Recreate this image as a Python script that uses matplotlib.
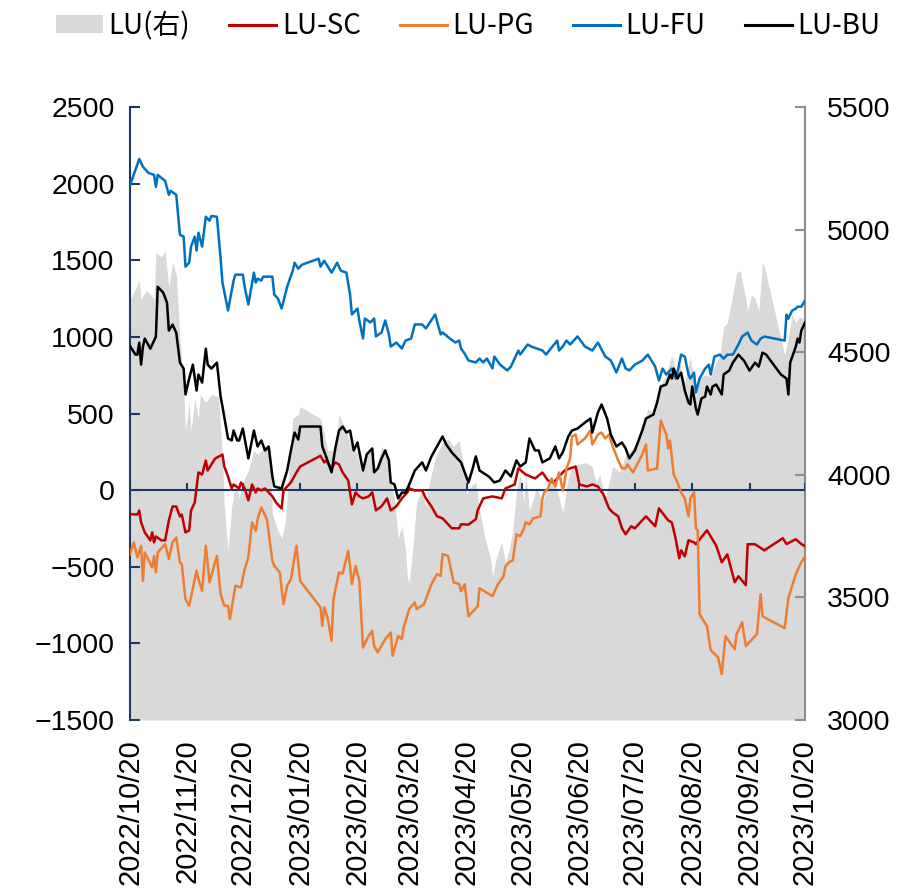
import matplotlib
matplotlib.use("Agg")
import matplotlib.pyplot as plt
from matplotlib.patches import Patch
from matplotlib.lines import Line2D
import pandas as pd

# ---- data ----
fu_dates = [
    "2022-10-20", "2022-10-22", "2022-10-25", "2022-10-27", "2022-10-30", "2022-11-02", "2022-11-03",
    "2022-11-04", "2022-11-08", "2022-11-10", "2022-11-11", "2022-11-14", "2022-11-16", "2022-11-18",
    "2022-11-19", "2022-11-21", "2022-11-22", "2022-11-24", "2022-11-25", "2022-11-26", "2022-11-28",
    "2022-11-30", "2022-12-02", "2022-12-03", "2022-12-06", "2022-12-08", "2022-12-09", "2022-12-12",
    "2022-12-14", "2022-12-15", "2022-12-16", "2022-12-20", "2022-12-21", "2022-12-23", "2022-12-26",
    "2022-12-27", "2022-12-28", "2022-12-30", "2022-12-31", "2023-01-05", "2023-01-06", "2023-01-08",
    "2023-01-10", "2023-01-13", "2023-01-16", "2023-01-17", "2023-01-19", "2023-01-21", "2023-01-30",
    "2023-01-31", "2023-02-02", "2023-02-06", "2023-02-09", "2023-02-11", "2023-02-14", "2023-02-16",
    "2023-02-17", "2023-02-20", "2023-02-21", "2023-02-23", "2023-02-24", "2023-02-27", "2023-03-01",
    "2023-03-02", "2023-03-05", "2023-03-07", "2023-03-09", "2023-03-10", "2023-03-13", "2023-03-16",
    "2023-03-18", "2023-03-21", "2023-03-23", "2023-03-27", "2023-03-29", "2023-04-03", "2023-04-06",
    "2023-04-07", "2023-04-11", "2023-04-14", "2023-04-16", "2023-04-17", "2023-04-19", "2023-04-21",
    "2023-04-25", "2023-04-27", "2023-04-29", "2023-05-01", "2023-05-04", "2023-05-05", "2023-05-08",
    "2023-05-12", "2023-05-14", "2023-05-18", "2023-05-19", "2023-05-23", "2023-05-25", "2023-05-31",
    "2023-06-02", "2023-06-08", "2023-06-09", "2023-06-11", "2023-06-13", "2023-06-15", "2023-06-19",
    "2023-06-23", "2023-06-27", "2023-06-30", "2023-07-04", "2023-07-07", "2023-07-10", "2023-07-13",
    "2023-07-15", "2023-07-17", "2023-07-20", "2023-07-24", "2023-07-27", "2023-07-29", "2023-07-31",
    "2023-08-02", "2023-08-04", "2023-08-06", "2023-08-09", "2023-08-11", "2023-08-12", "2023-08-14",
    "2023-08-16", "2023-08-18", "2023-08-19", "2023-08-21", "2023-08-22", "2023-08-24", "2023-08-27",
    "2023-08-29", "2023-08-30", "2023-09-01", "2023-09-04", "2023-09-06", "2023-09-08", "2023-09-11",
    "2023-09-14", "2023-09-16", "2023-09-19", "2023-09-21", "2023-09-24", "2023-09-26", "2023-09-28",
    "2023-10-09", "2023-10-10", "2023-10-11", "2023-10-13", "2023-10-15", "2023-10-16", "2023-10-18",
    "2023-10-20",
]
fu_vals = [
    1990, 2057, 2161, 2110, 2070, 2057, 1979, 2057, 2018, 1927, 1953, 1927, 1667, 1654, 1458, 1484,
    1589, 1654, 1563, 1680, 1589, 1784, 1758, 1789, 1784, 1510, 1354, 1172, 1302, 1367, 1406, 1406,
    1328, 1211, 1419, 1354, 1380, 1367, 1393, 1393, 1276, 1250, 1185, 1328, 1432, 1484, 1445, 1471,
    1510, 1458, 1497, 1419, 1484, 1432, 1419, 1276, 1146, 1185, 1107, 989, 1120, 1094, 1120, 1003,
    1029, 1107, 1016, 937, 963, 924, 976, 989, 1081, 1081, 1055, 1146, 1016, 1029, 989, 963, 976,
    924, 890, 846, 833, 859, 833, 859, 794, 872, 820, 781, 807, 911, 885, 950, 937, 911, 885, 976,
    911, 937, 976, 950, 1003, 937, 911, 963, 872, 846, 768, 859, 794, 781, 819, 845, 884, 845, 806,
    715, 793, 754, 793, 728, 767, 884, 871, 754, 728, 767, 637, 728, 793, 819, 754, 871, 884, 858,
    884, 884, 950, 1002, 1028, 976, 950, 989, 1002, 976, 1145, 1119, 1171, 1184, 1197, 1197, 1236,
]

sc_dates = [
    "2022-10-20", "2022-10-24", "2022-10-25", "2022-10-26", "2022-10-28", "2022-10-31", "2022-11-01",
    "2022-11-02", "2022-11-03", "2022-11-06", "2022-11-08", "2022-11-10", "2022-11-12", "2022-11-14",
    "2022-11-16", "2022-11-17", "2022-11-19", "2022-11-21", "2022-11-22", "2022-11-24", "2022-11-26",
    "2022-11-28", "2022-11-30", "2022-12-01", "2022-12-05", "2022-12-07", "2022-12-09", "2022-12-10",
    "2022-12-12", "2022-12-14", "2022-12-15", "2022-12-18", "2022-12-19", "2022-12-21", "2022-12-23",
    "2022-12-25", "2022-12-27", "2022-12-28", "2022-12-30", "2023-01-01", "2023-01-05", "2023-01-07",
    "2023-01-10", "2023-01-11", "2023-01-15", "2023-01-18", "2023-01-20", "2023-01-31", "2023-02-02",
    "2023-02-03", "2023-02-06", "2023-02-08", "2023-02-10", "2023-02-12", "2023-02-15", "2023-02-17",
    "2023-02-19", "2023-02-21", "2023-02-23", "2023-02-26", "2023-02-28", "2023-03-02", "2023-03-05",
    "2023-03-08", "2023-03-10", "2023-03-13", "2023-03-16", "2023-03-19", "2023-03-20", "2023-03-23",
    "2023-03-27", "2023-03-29", "2023-04-01", "2023-04-04", "2023-04-07", "2023-04-09", "2023-04-12",
    "2023-04-16", "2023-04-17", "2023-04-21", "2023-04-25", "2023-04-26", "2023-04-29", "2023-05-04",
    "2023-05-09", "2023-05-11", "2023-05-16", "2023-05-18", "2023-05-22", "2023-05-27", "2023-05-31",
    "2023-06-03", "2023-06-06", "2023-06-09", "2023-06-12", "2023-06-15", "2023-06-18", "2023-06-20",
    "2023-06-24", "2023-06-27", "2023-06-30", "2023-07-03", "2023-07-06", "2023-07-08", "2023-07-11",
    "2023-07-13", "2023-07-15", "2023-07-18", "2023-07-20", "2023-07-26", "2023-07-31", "2023-08-02",
    "2023-08-07", "2023-08-09", "2023-08-11", "2023-08-13", "2023-08-14", "2023-08-16", "2023-08-18",
    "2023-08-21", "2023-08-22", "2023-08-28", "2023-09-02", "2023-09-05", "2023-09-08", "2023-09-12",
    "2023-09-14", "2023-09-18", "2023-09-19", "2023-09-23", "2023-09-28", "2023-10-08", "2023-10-10",
    "2023-10-15", "2023-10-18", "2023-10-20",
]
sc_vals = [
    -157, -159, -133, -211, -276, -328, -276, -341, -302, -328, -328, -198, -107, -107, -172, -159,
    -276, -263, -133, -81, 115, 102, 193, 128, 206, 219, 232, 154, 89, 11, 37, 11, 50, 11, -67, 37,
    -15, 11, -2, 11, -41, -81, -120, -2, 50, 115, 154, 224, 181, 194, 142, 181, 168, 115, 63, -93,
    -15, -41, -54, -41, -15, -132, -106, -54, -132, -106, -54, -15, 11, -2, -2, -54, -106, -171,
    -184, -210, -249, -249, -223, -225, -190, -132, -54, -41, -54, 11, 37, 142, 102, 76, 115, 63,
    50, 89, 128, 142, 154, 37, 24, 37, 24, -28, -119, -145, -171, -249, -288, -236, -249, -171,
    -236, -119, -197, -211, -314, -445, -393, -432, -327, -341, -353, -262, -363, -471, -419, -601,
    -562, -620, -353, -353, -393, -314, -352, -320, -352, -366,
]

pg_dates = [
    "2022-10-20", "2022-10-22", "2022-10-24", "2022-10-26", "2022-10-27", "2022-10-28", "2022-11-01",
    "2022-11-02", "2022-11-03", "2022-11-04", "2022-11-08", "2022-11-10", "2022-11-12", "2022-11-14",
    "2022-11-16", "2022-11-17", "2022-11-19", "2022-11-21", "2022-11-24", "2022-11-25", "2022-11-26",
    "2022-11-28", "2022-11-30", "2022-12-02", "2022-12-06", "2022-12-08", "2022-12-10", "2022-12-12",
    "2022-12-13", "2022-12-16", "2022-12-19", "2022-12-21", "2022-12-23", "2022-12-25", "2022-12-27",
    "2022-12-28", "2022-12-30", "2023-01-02", "2023-01-05", "2023-01-06", "2023-01-09", "2023-01-11",
    "2023-01-13", "2023-01-15", "2023-01-18", "2023-01-20", "2023-01-31", "2023-02-01", "2023-02-02",
    "2023-02-04", "2023-02-06", "2023-02-07", "2023-02-10", "2023-02-12", "2023-02-15", "2023-02-17",
    "2023-02-19", "2023-02-21", "2023-02-23", "2023-02-26", "2023-02-28", "2023-03-01", "2023-03-03",
    "2023-03-07", "2023-03-10", "2023-03-11", "2023-03-14", "2023-03-16", "2023-03-17", "2023-03-20",
    "2023-03-23", "2023-03-24", "2023-03-28", "2023-04-01", "2023-04-04", "2023-04-06", "2023-04-07",
    "2023-04-10", "2023-04-13", "2023-04-16", "2023-04-17", "2023-04-19", "2023-04-21", "2023-04-24",
    "2023-04-26", "2023-04-27", "2023-05-04", "2023-05-07", "2023-05-10", "2023-05-11", "2023-05-13",
    "2023-05-15", "2023-05-17", "2023-05-19", "2023-05-21", "2023-05-22", "2023-05-24", "2023-05-26",
    "2023-05-30", "2023-05-31", "2023-06-01", "2023-06-03", "2023-06-05", "2023-06-07", "2023-06-09",
    "2023-06-11", "2023-06-12", "2023-06-13", "2023-06-15", "2023-06-16", "2023-06-18", "2023-06-19",
    "2023-06-23", "2023-06-26", "2023-06-27", "2023-06-30", "2023-07-02", "2023-07-04", "2023-07-06",
    "2023-07-08", "2023-07-11", "2023-07-13", "2023-07-15", "2023-07-16", "2023-07-19", "2023-07-24",
    "2023-07-26", "2023-07-27", "2023-08-01", "2023-08-03", "2023-08-06", "2023-08-07", "2023-08-08",
    "2023-08-10", "2023-08-12", "2023-08-14", "2023-08-16", "2023-08-18", "2023-08-19", "2023-08-21",
    "2023-08-22", "2023-08-23", "2023-08-24", "2023-08-28", "2023-08-30", "2023-09-03", "2023-09-05",
    "2023-09-07", "2023-09-10", "2023-09-12", "2023-09-13", "2023-09-16", "2023-09-18", "2023-09-20",
    "2023-09-24", "2023-09-26", "2023-09-27", "2023-10-09", "2023-10-11", "2023-10-15", "2023-10-18",
    "2023-10-20",
]
pg_vals = [
    -418, -341, -439, -363, -592, -407, -505, -430, -537, -407, -352, -450, -341, -309, -472, -483,
    -711, -755, -581, -526, -581, -657, -363, -602, -429, -679, -755, -755, -842, -624, -635, -515,
    -439, -211, -265, -189, -113, -189, -461, -494, -537, -744, -624, -581, -363, -592, -765, -885,
    -765, -842, -983, -711, -537, -545, -396, -613, -494, -592, -1027, -951, -918, -1016, -1059,
    -972, -929, -1081, -951, -972, -896, -776, -733, -776, -744, -613, -548, -560, -418, -429, -602,
    -613, -660, -614, -823, -784, -758, -640, -692, -614, -562, -497, -471, -458, -288, -301, -249,
    -210, -223, -184, -171, -54, -15, 11, 76, 24, 115, -2, 50, 142, 207, 350, 363, 298, 337, 389,
    298, 363, 376, 337, 363, 285, 194, 142, 142, 168, 115, 233, 298, 128, 141, 454, 363, 272, 324,
    102, 50, -15, -54, -171, -54, -15, -249, -262, -810, -888, -1044, -1092, -1201, -953, -1005,
    -1038, -940, -862, -1018, -992, -940, -679, -823, -901, -705, -549, -471, -432,
]

bu_dates = [
    "2022-10-20", "2022-10-23", "2022-10-24", "2022-10-25", "2022-10-26", "2022-10-27", "2022-10-28",
    "2022-10-31", "2022-11-03", "2022-11-04", "2022-11-07", "2022-11-09", "2022-11-10", "2022-11-12",
    "2022-11-14", "2022-11-16", "2022-11-18", "2022-11-19", "2022-11-21", "2022-11-23", "2022-11-25",
    "2022-11-26", "2022-11-27", "2022-11-28", "2022-11-30", "2022-12-01", "2022-12-03", "2022-12-06",
    "2022-12-08", "2022-12-09", "2022-12-12", "2022-12-14", "2022-12-15", "2022-12-17", "2022-12-18",
    "2022-12-20", "2022-12-22", "2022-12-23", "2022-12-26", "2022-12-28", "2022-12-30", "2023-01-01",
    "2023-01-03", "2023-01-05", "2023-01-06", "2023-01-10", "2023-01-13", "2023-01-15", "2023-01-17",
    "2023-01-19", "2023-01-20", "2023-01-31", "2023-02-01", "2023-02-03", "2023-02-06", "2023-02-08",
    "2023-02-10", "2023-02-12", "2023-02-14", "2023-02-16", "2023-02-18", "2023-02-20", "2023-02-23",
    "2023-02-25", "2023-02-27", "2023-02-28", "2023-03-01", "2023-03-03", "2023-03-05", "2023-03-07",
    "2023-03-09", "2023-03-10", "2023-03-12", "2023-03-14", "2023-03-16", "2023-03-18", "2023-03-20",
    "2023-03-23", "2023-03-27", "2023-03-29", "2023-04-01", "2023-04-04", "2023-04-07", "2023-04-09",
    "2023-04-12", "2023-04-15", "2023-04-17", "2023-04-19", "2023-04-21", "2023-04-23", "2023-04-25",
    "2023-04-27", "2023-05-02", "2023-05-05", "2023-05-08", "2023-05-11", "2023-05-14", "2023-05-17",
    "2023-05-19", "2023-05-22", "2023-05-24", "2023-05-27", "2023-05-29", "2023-05-31", "2023-06-04",
    "2023-06-07", "2023-06-09", "2023-06-11", "2023-06-14", "2023-06-16", "2023-06-19", "2023-06-23",
    "2023-06-26", "2023-06-27", "2023-06-30", "2023-07-02", "2023-07-05", "2023-07-07", "2023-07-10",
    "2023-07-13", "2023-07-15", "2023-07-17", "2023-07-20", "2023-07-24", "2023-07-26", "2023-07-30",
    "2023-08-01", "2023-08-03", "2023-08-06", "2023-08-08", "2023-08-09", "2023-08-10", "2023-08-12",
    "2023-08-14", "2023-08-16", "2023-08-18", "2023-08-19", "2023-08-20", "2023-08-22", "2023-08-23",
    "2023-08-25", "2023-08-27", "2023-08-28", "2023-08-30", "2023-08-31", "2023-09-02", "2023-09-05",
    "2023-09-06", "2023-09-09", "2023-09-11", "2023-09-14", "2023-09-17", "2023-09-20", "2023-09-23",
    "2023-09-25", "2023-09-27", "2023-09-29", "2023-10-07", "2023-10-10", "2023-10-11", "2023-10-12",
    "2023-10-15", "2023-10-16", "2023-10-17", "2023-10-18", "2023-10-20",
]
bu_vals = [
    940, 884, 884, 962, 819, 936, 989, 923, 1002, 1327, 1288, 1223, 1041, 1080, 1028, 832, 793, 624,
    728, 819, 650, 754, 728, 702, 923, 819, 793, 832, 611, 546, 337, 324, 389, 324, 324, 402, 272,
    207, 389, 285, 324, 259, 285, 89, 24, 11, 128, 259, 376, 330, 415, 415, 285, 220, 116, 272, 389,
    415, 376, 389, 259, 311, 128, 233, 259, 272, 116, 142, 207, 259, 194, 50, 37, -55, -16, -16, 37,
    128, 181, 128, 220, 285, 350, 298, 246, 207, 181, 116, 50, 128, 220, 128, 89, 50, 63, 128, 89,
    194, 154, 181, 337, 259, 259, 181, 207, 285, 207, 246, 350, 389, 402, 441, 467, 376, 506, 559,
    467, 363, 285, 311, 272, 207, 259, 389, 467, 493, 572, 676, 689, 754, 728, 793, 728, 767, 650,
    572, 559, 676, 533, 493, 598, 611, 676, 624, 676, 689, 624, 754, 780, 832, 884, 845, 780, 832,
    806, 897, 884, 754, 728, 624, 832, 936, 989, 963, 1041, 1093,
]

# LU outright price, right axis (grey area)
lu_dates = [
    "2022-10-20", "2022-10-23", "2022-10-25", "2022-10-26", "2022-10-29", "2022-11-02", "2022-11-03",
    "2022-11-06", "2022-11-08", "2022-11-10", "2022-11-12", "2022-11-14", "2022-11-16", "2022-11-18",
    "2022-11-19", "2022-11-21", "2022-11-22", "2022-11-24", "2022-11-26", "2022-11-27", "2022-11-30",
    "2022-12-03", "2022-12-07", "2022-12-09", "2022-12-10", "2022-12-12", "2022-12-14", "2022-12-16",
    "2022-12-18", "2022-12-20", "2022-12-23", "2022-12-26", "2022-12-28", "2023-01-01", "2023-01-04",
    "2023-01-05", "2023-01-08", "2023-01-10", "2023-01-12", "2023-01-15", "2023-01-16", "2023-01-19",
    "2023-01-20", "2023-01-31", "2023-02-04", "2023-02-08", "2023-02-10", "2023-02-12", "2023-02-16",
    "2023-02-20", "2023-02-22", "2023-02-25", "2023-02-28", "2023-03-02", "2023-03-05", "2023-03-07",
    "2023-03-10", "2023-03-12", "2023-03-14", "2023-03-16", "2023-03-18", "2023-03-19", "2023-03-20",
    "2023-03-22", "2023-03-24", "2023-03-27", "2023-03-29", "2023-03-30", "2023-04-03", "2023-04-07",
    "2023-04-10", "2023-04-13", "2023-04-16", "2023-04-19", "2023-04-20", "2023-04-23", "2023-04-25",
    "2023-04-27", "2023-04-30", "2023-05-03", "2023-05-04", "2023-05-06", "2023-05-09", "2023-05-11",
    "2023-05-13", "2023-05-15", "2023-05-17", "2023-05-19", "2023-05-21", "2023-05-22", "2023-05-24",
    "2023-05-26", "2023-05-28", "2023-05-31", "2023-06-02", "2023-06-06", "2023-06-09", "2023-06-11",
    "2023-06-12", "2023-06-14", "2023-06-16", "2023-06-19", "2023-06-23", "2023-06-27", "2023-06-29",
    "2023-07-01", "2023-07-04", "2023-07-06", "2023-07-08", "2023-07-12", "2023-07-15", "2023-07-18",
    "2023-07-21", "2023-07-24", "2023-07-27", "2023-07-30", "2023-08-02", "2023-08-03", "2023-08-06",
    "2023-08-09", "2023-08-11", "2023-08-13", "2023-08-16", "2023-08-19", "2023-08-21", "2023-08-22",
    "2023-08-24", "2023-08-27", "2023-08-30", "2023-09-01", "2023-09-04", "2023-09-06", "2023-09-08",
    "2023-09-11", "2023-09-13", "2023-09-15", "2023-09-18", "2023-09-19", "2023-09-21", "2023-09-23",
    "2023-09-25", "2023-09-27", "2023-09-28", "2023-10-09", "2023-10-11", "2023-10-13", "2023-10-15",
    "2023-10-17", "2023-10-20",
]
lu_vals = [
    4714, 4760, 4792, 4718, 4751, 4718, 4906, 4889, 4914, 4767, 4865, 4816, 4555, 4360, 4181, 4295,
    4181, 4311, 4230, 4327, 4295, 4327, 4319, 4067, 3871, 3692, 3871, 3969, 3904, 3969, 4018, 4099,
    4083, 4116, 4099, 3839, 3773, 3741, 3806, 4132, 4230, 4246, 4278, 4230, 4099, 4099, 4246, 4213,
    4132, 4083, 4010, 4083, 4099, 4018, 4115, 4099, 3969, 3904, 3740, 3790, 3692, 3578, 3562, 3708,
    3888, 3936, 3870, 3936, 4067, 4132, 4148, 4115, 4140, 4018, 3920, 3960, 3969, 3855, 3741, 3659,
    3586, 3660, 3724, 3643, 3692, 3773, 3936, 4002, 3887, 4010, 3855, 3900, 3953, 3880, 3936, 3985,
    3904, 3847, 3887, 3985, 4034, 4042, 4050, 4034, 3969, 4000, 3904, 3969, 4034, 4010, 4083, 4099,
    4132, 4181, 4270, 4250, 4335, 4368, 4409, 4490, 4425, 4457, 4376, 4482, 4376, 4319, 4392, 4409,
    4400, 4441, 4490, 4604, 4620, 4734, 4824, 4832, 4718, 4669, 4734, 4718, 4669, 4865, 4850, 4490,
    4555, 4653, 4620, 4645, 4630,
]

# x ticks fall on the 20th of every month
tick_dates = pd.date_range("2022-10-01", "2023-10-01", freq="MS") + pd.Timedelta(days=19)
legend_labels = ["LU(右)", "LU-SC", "LU-PG", "LU-FU", "LU-BU"]

NAVY = "#1F3864"
GREY_AXIS = "#8C8C8C"
AREA = "#D9D9D9"
COLORS = {"LU-SC": "#C00000", "LU-PG": "#ED7D31", "LU-FU": "#0070C0", "LU-BU": "#000000"}

plt.rcParams["font.family"] = ["Liberation Sans", "DejaVu Sans"]

fig = plt.figure(figsize=(8.97, 8.91), dpi=100)
ax = fig.add_axes([130 / 897, 1 - 720 / 891, 675 / 897, 613 / 891])
ax2 = ax.twinx()

# grey area on the right axis, drawn underneath the spread lines
ax2.fill_between(pd.to_datetime(lu_dates), 3000, lu_vals, color=AREA, lw=0)
ax.set_zorder(ax2.get_zorder() + 1)
ax.patch.set_visible(False)

series = [
    ("LU-SC", sc_dates, sc_vals),
    ("LU-PG", pg_dates, pg_vals),
    ("LU-FU", fu_dates, fu_vals),
    ("LU-BU", bu_dates, bu_vals),
]
for name, d, v in series:
    ax.plot(pd.to_datetime(d), v, color=COLORS[name], lw=1.8, zorder=3)

start, end = pd.Timestamp("2022-10-20"), pd.Timestamp("2023-10-20")
ax.set_xlim(start, end)
ax.set_ylim(-1500, 2500)
ax.set_yticks(range(-1500, 2501, 500))
ax2.set_ylim(3000, 5500)
ax2.set_yticks(range(3000, 5501, 500))

# zero line acts as the x axis, month ticks pointing up
ax.axhline(0, color=NAVY, lw=1.5, zorder=2)
ax.vlines(tick_dates, 0, 45, color=NAVY, lw=1.5, zorder=2)

ax.set_xticks(tick_dates)
ax.set_xticklabels([t.strftime("%Y/%m/%d") for t in tick_dates])
ax.tick_params(axis="x", length=0, labelrotation=90, labelsize=21, pad=14)
ax.tick_params(axis="y", direction="in", length=7, width=1.5, color=NAVY, labelsize=20.5, pad=11)
ax2.tick_params(axis="y", direction="in", length=7, width=1.5, color=GREY_AXIS, labelsize=20.5, pad=16)

for s in ["top", "right", "bottom"]:
    ax.spines[s].set_visible(False)
for s in ["top", "left", "bottom"]:
    ax2.spines[s].set_visible(False)
ax.spines["left"].set_color(NAVY)
ax.spines["left"].set_linewidth(1.5)
ax2.spines["right"].set_color(GREY_AXIS)
ax2.spines["right"].set_linewidth(1.5)

handles = [Patch(facecolor=AREA, edgecolor="none")]
handles += [Line2D([], [], color=COLORS[n], lw=2.2) for n in legend_labels[1:]]
fig.legend(handles, legend_labels, loc="center", bbox_to_anchor=(0.522, 1 - 26 / 891), ncol=5,
           frameon=False, handlelength=1.7, handleheight=0.6, handletextpad=0.2, columnspacing=1.4,
           prop={"family": ["Noto Sans CJK SC", "DejaVu Sans"], "size": 20})

fig.savefig("out.png", dpi=100)
